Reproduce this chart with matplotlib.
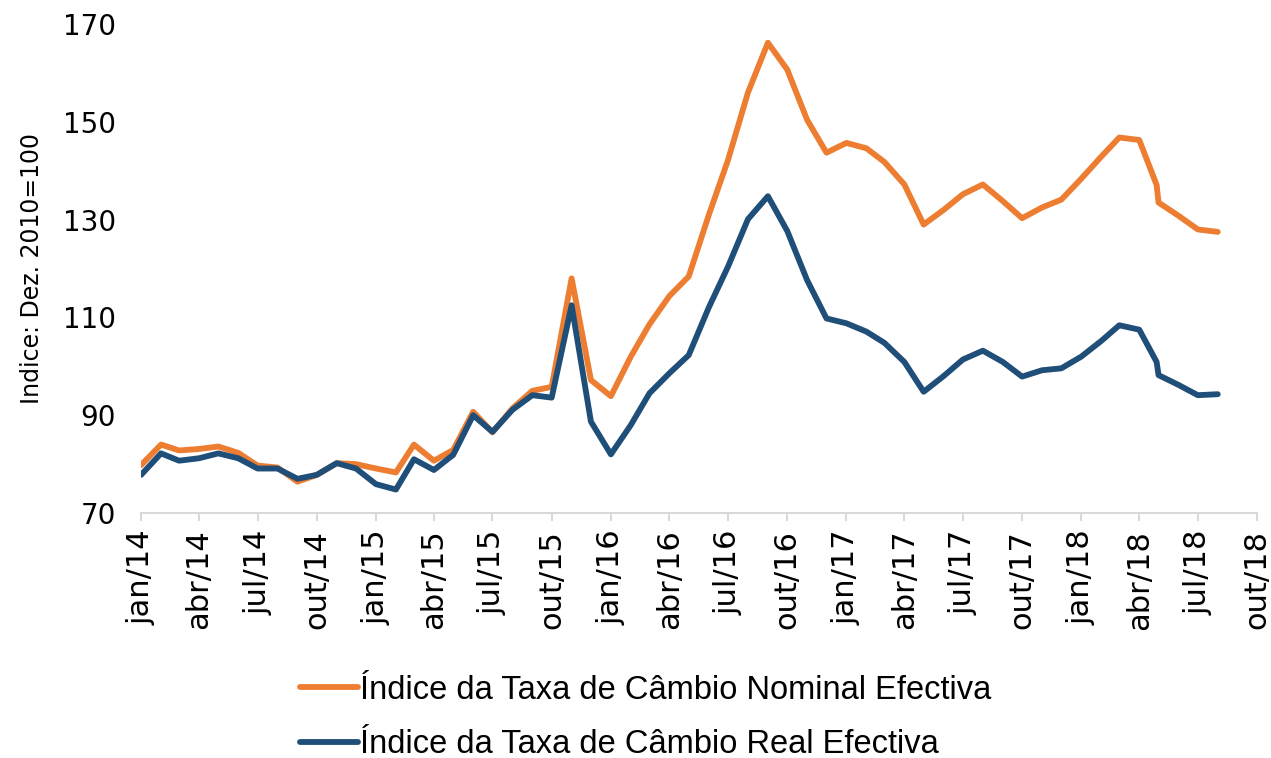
import pandas as pd
import matplotlib
matplotlib.use("Agg")
import matplotlib.pyplot as plt

# monthly values, jan/14 .. aug/18 (one extra reading at the end of april 2018)
dates = list(pd.date_range("2014-01-01", "2018-04-01", freq="MS"))
dates += [pd.Timestamp("2018-04-28")]
dates += list(pd.date_range("2018-05-01", "2018-08-01", freq="MS"))

nominal = [79.8, 84.0, 82.8, 83.1, 83.6, 82.3, 79.7, 79.3, 76.4, 77.8, 80.2, 80.0,
           79.1, 78.3, 84.0, 80.7, 82.9, 90.7, 86.5, 91.4, 95.0, 95.8, 118.0, 97.2,
           93.9, 102.0, 108.6, 114.4, 118.4, 130.9, 142.2, 156.0, 166.2, 160.7, 150.4, 143.7,
           145.7, 144.6, 141.8, 137.2, 129.0, 132.0, 135.2, 137.2, 133.8, 130.3, 132.5, 134.1,
           138.4, 142.9, 146.8, 146.3, 137.1, 133.5, 130.8, 128.0, 127.5]
real = [77.8, 82.2, 80.7, 81.2, 82.2, 81.2, 79.1, 79.1, 77.0, 77.8, 80.2, 79.1,
        75.9, 74.8, 81.0, 78.8, 81.9, 90.0, 86.6, 91.1, 94.1, 93.6, 112.5, 88.7,
        82.0, 88.0, 94.5, 98.6, 102.3, 112.0, 120.4, 130.1, 134.8, 127.7, 117.6, 109.8,
        108.8, 107.1, 104.8, 100.9, 94.8, 98.0, 101.4, 103.2, 100.9, 97.9, 99.2, 99.6,
        102.0, 105.2, 108.4, 107.5, 100.9, 98.2, 96.2, 94.1, 94.3]

labels = ["Índice da Taxa de Câmbio Nominal Efectiva",
          "Índice da Taxa de Câmbio Real Efectiva"]
month_pt = {1: "jan", 4: "abr", 7: "jul", 10: "out"}

fig = plt.figure(figsize=(12.71, 7.58), dpi=100)
ax = fig.add_axes([0.111, 0.3232, 0.878, 0.645])

ax.plot(dates, nominal, color="#ED7D31", lw=4.2, label=labels[0], solid_capstyle="round")
ax.plot(dates, real, color="#1F4E79", lw=4.2, label=labels[1], solid_capstyle="round")

ax.set_ylim(70, 170)
ax.set_yticks(range(70, 171, 20))
ax.set_xlim(pd.Timestamp("2014-01-01"), pd.Timestamp("2018-10-01"))
ticks = pd.date_range("2014-01-01", "2018-10-01", freq="QS")
ax.set_xticks(ticks)
ax.set_xticklabels([f"{month_pt[d.month]}/{d.year % 100}" for d in ticks],
                   rotation=90, fontsize=22)

for s in ["top", "right", "left"]:
    ax.spines[s].set_visible(False)
ax.spines["bottom"].set_color("#d9d9d9")
ax.spines["bottom"].set_linewidth(1.5)
ax.tick_params(axis="x", length=6, width=1.5, color="#d9d9d9", pad=6)
ax.tick_params(axis="y", length=0, pad=18, labelsize=20)

ax.set_ylabel("Indice: Dez. 2010=100", fontsize=17, labelpad=14)

fig.legend(loc="center left", bbox_to_anchor=(0.2235, 0.0534), frameon=False,
           prop={"family": "Liberation Sans", "size": 23.5},
           handlelength=1.75, handletextpad=0.08, labelspacing=0.72, borderpad=0)

fig.savefig("out.png", dpi=100)
